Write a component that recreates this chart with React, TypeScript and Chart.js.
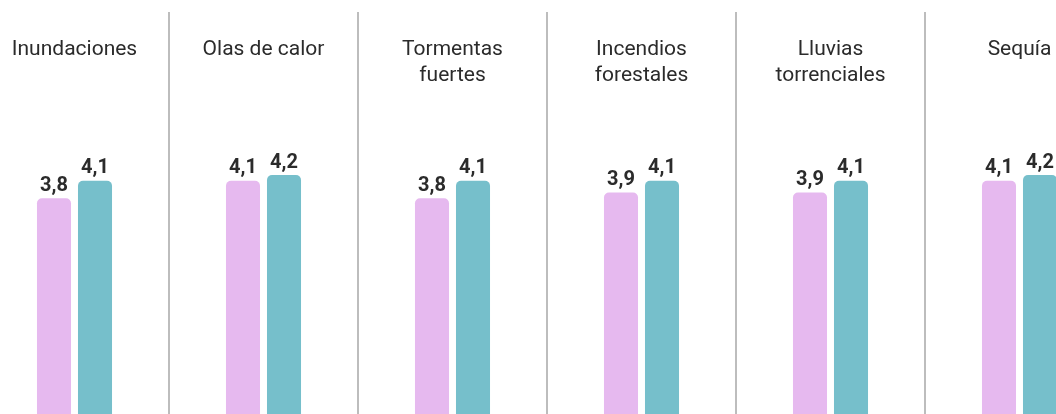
import React, { useEffect, useRef } from "react";
import { Chart, registerables } from "chart.js";

Chart.register(...registerables);

const categories: string[][] = [
  ["Inundaciones"],
  ["Olas de calor"],
  ["Tormentas", "fuertes"],
  ["Incendios", "forestales"],
  ["Lluvias", "torrenciales"],
  ["Sequía"],
];
const seriesA: number[] = [3.8, 4.1, 3.8, 3.9, 3.9, 4.1];
const seriesB: number[] = [4.1, 4.2, 4.1, 4.1, 4.1, 4.2];
const colorA = "#E6B9EF";
const colorB = "#76BFCB";

const fmt = (v: number) => v.toFixed(1).replace(".", ",");

const panelPlugin = {
  id: "panelPlugin",
  afterDatasetsDraw(chart: any) {
    const ctx = chart.ctx;
    const x = chart.scales.x;
    const area = chart.chartArea;
    ctx.save();
    // dividers
    ctx.strokeStyle = "#9a9a9a";
    ctx.lineWidth = 1.3;
    for (let i = 0; i < categories.length - 1; i++) {
      const px = (x.getPixelForValue(i) + x.getPixelForValue(i + 1)) / 2;
      ctx.beginPath();
      ctx.moveTo(px, 12);
      ctx.lineTo(px, area.bottom);
      ctx.stroke();
    }
    // titles
    ctx.fillStyle = "#2b2b2b";
    ctx.font = "400 21px Roboto";
    ctx.textAlign = "center";
    ctx.textBaseline = "alphabetic";
    categories.forEach((lines, i) => {
      const cx = x.getPixelForValue(i);
      lines.forEach((line, j) => {
        ctx.fillText(line, cx, 54.5 + j * 26);
      });
    });
    // value labels
    ctx.fillStyle = "#2b2b2b";
    ctx.font = "700 20px Roboto";
    chart.data.datasets.forEach((ds: any, di: number) => {
      const meta = chart.getDatasetMeta(di);
      meta.data.forEach((bar: any, i: number) => {
        ctx.fillText(fmt(ds.data[i]), bar.x, bar.y - 7.5);
      });
    });
    ctx.restore();
  },
};

export default function App() {
  const ref = useRef<HTMLCanvasElement | null>(null);
  useEffect(() => {
    document.body.style.overflow = "hidden";
    const chart = new Chart(ref.current as HTMLCanvasElement, {
      type: "bar",
      data: {
        labels: categories.map((c) => c.join(" ")),
        datasets: [
          {
            data: seriesA,
            backgroundColor: colorA,
            borderRadius: 5,
            borderSkipped: "start",
            categoryPercentage: 0.434,
            barPercentage: 0.83,
          },
          {
            data: seriesB,
            backgroundColor: colorB,
            borderRadius: 5,
            borderSkipped: "start",
            categoryPercentage: 0.434,
            barPercentage: 0.83,
          },
        ],
      },
      options: {
        responsive: false,
        animation: false,
        layout: { padding: 0 },
        plugins: {
          legend: { display: false },
          tooltip: { enabled: false },
          title: { display: false },
        },
        scales: {
          x: { display: false, offset: true },
          y: { display: false, min: 0, max: 7.2 },
        },
      },
      plugins: [panelPlugin],
    });
    return () => chart.destroy();
  }, []);
  return (
    <div
      style={{
        position: "fixed",
        left: 0,
        top: 0,
        width: 1056,
        height: 414,
        overflow: "hidden",
        background: "#fff",
      }}
    >
      <div style={{ position: "absolute", left: -20, top: 0, width: 1134, height: 420 }}>
        <canvas ref={ref} width={1134} height={420} />
      </div>
    </div>
  );
}
